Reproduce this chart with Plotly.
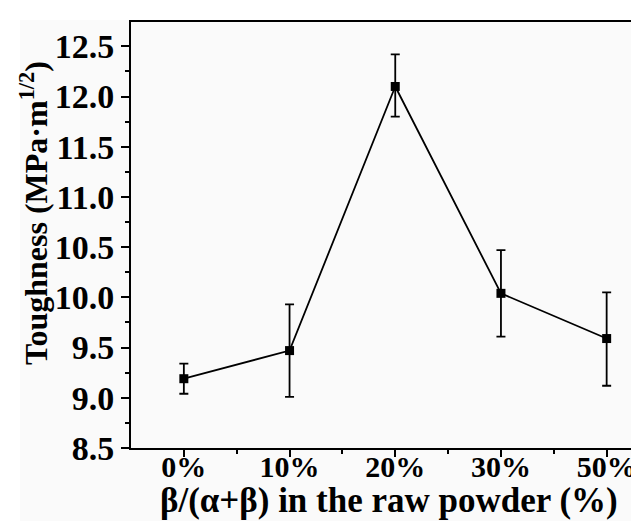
import plotly.graph_objects as go

categories = ["0%", "10%", "20%", "30%", "50%"]
toughness = [9.19, 9.47, 12.10, 10.04, 9.59]
err_plus = [0.15, 0.46, 0.32, 0.43, 0.46]
err_minus = [0.15, 0.46, 0.30, 0.43, 0.47]
y_ticks = [8.5, 9.0, 9.5, 10.0, 10.5, 11.0, 11.5, 12.0, 12.5]

W, H = 639, 521
L, R, T, B = 123, 0, 14, 81
pw, ph = W - L - R, H - T - B
bg = "#fafafa"
font_family = "Liberation Serif, Times New Roman, serif"

x_idx = list(range(len(categories)))

fig = go.Figure()
fig.add_trace(go.Scatter(
    x=x_idx, y=toughness, mode="lines+markers",
    line=dict(color="black", width=1.8),
    marker=dict(symbol="square", size=9, color="black"),
    error_y=dict(type="data", symmetric=False, array=err_plus, arrayminus=err_minus,
                 color="black", thickness=1.8, width=4.5),
    showlegend=False,
))

fig.update_layout(
    width=W, height=H,
    margin=dict(l=L, r=R, t=T, b=B),
    paper_bgcolor="white", plot_bgcolor=bg,
    font=dict(family=font_family, color="black"),
    shapes=[dict(type="rect", xref="paper", yref="paper",
                 x0=(12 - L) / pw, x1=1.0, y0=-(B) / ph, y1=1 + (T - 12) / ph,
                 fillcolor=bg, line=dict(width=0), layer="below")],
    xaxis=dict(
        range=[-0.5, (W - L) / 105.7 - 0.5], tickmode="array", tickvals=x_idx, ticktext=categories,
        showline=True, linecolor="black", linewidth=2, mirror=True,
        ticks="outside", ticklen=7, tickwidth=1.8, tickcolor="black",
        minor=dict(tickmode="array", tickvals=[i + 0.5 for i in x_idx], ticks="outside",
                   ticklen=4, tickwidth=1.8, tickcolor="black"),
        showgrid=False, zeroline=False, ticklabelstandoff=-16,
        tickfont=dict(family=font_family, size=30, weight="bold", color="black"),
    ),
    yaxis=dict(
        range=[8.5, 12.742], tickmode="array", tickvals=y_ticks,
        ticktext=[f"{v:.1f}" for v in y_ticks],
        showline=True, linecolor="black", linewidth=2, mirror=False,
        ticks="outside", ticklen=8, tickwidth=1.8, tickcolor="black",
        minor=dict(dtick=0.25, ticks="outside", ticklen=4, tickwidth=1.8, tickcolor="black"),
        showgrid=False, zeroline=False,
        tickfont=dict(family=font_family, size=34, weight="bold", color="black"),
    ),
    annotations=[
        dict(text="β/(α+β) in the raw powder (%)", xref="paper", yref="paper",
             x=0.5, y=-(493 - (H - B)) / ph, xanchor="center", yanchor="middle",
             showarrow=False, font=dict(family=font_family, size=35, weight="bold", color="black")),
        dict(text="Toughness (MPa·m<sup>1/2</sup>)", xref="paper", yref="paper",
             x=(26 - L) / pw, y=(H - B - 205) / ph, xanchor="center", yanchor="middle",
             textangle=-90, showarrow=False,
             font=dict(family=font_family, size=32, weight="bold", color="black")),
    ],
)

fig.write_html("out.html")
